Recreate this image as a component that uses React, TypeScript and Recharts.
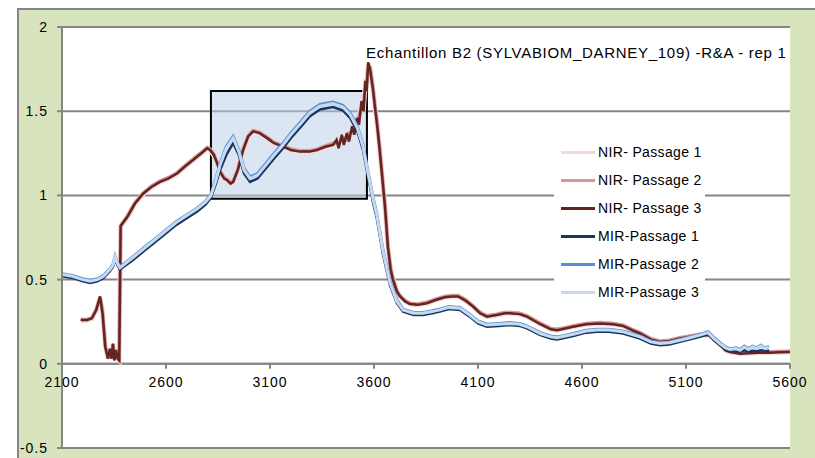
import React from 'react';
import {
  LineChart,
  Line,
  XAxis,
  YAxis,
  CartesianGrid,
  ReferenceArea,
  ReferenceLine,
  ReferenceDot,
} from 'recharts';

const FONT = '"Liberation Sans", Arial, sans-serif';

const title = 'Echantillon B2 (SYLVABIOM_DARNEY_109) -R&A - rep 1';
const xTicks = [2100, 2600, 3100, 3600, 4100, 4600, 5100, 5600];
const yTicks = [-0.5, 0, 0.5, 1, 1.5, 2];

// highlighted region (data coordinates)
const boxX = [2816, 3566];
const boxY = [0.98, 1.62];

// wavenumbers of the MIR passages
const mirX = [
  2100, 2150, 2200, 2235, 2270, 2300, 2330, 2345, 2355, 2365,
  2379, 2440, 2500, 2560, 2600, 2650, 2700, 2750, 2790, 2816,
  2840, 2860, 2890, 2923, 2950, 2975, 3004, 3040, 3080, 3120,
  3163, 3200, 3250, 3292, 3340, 3403, 3450, 3485, 3520, 3547,
  3570, 3595, 3614, 3643, 3677, 3710, 3740, 3790, 3835, 3880,
  3917, 3960, 4013, 4060, 4100, 4143, 4200, 4254, 4300, 4335,
  4400, 4450, 4480, 4520, 4557, 4620, 4671, 4730, 4797, 4879,
  4930, 4975, 5020, 5071, 5120, 5167, 5206, 5235, 5263, 5290,
  5312, 5340, 5360, 5380, 5400, 5420, 5440, 5460, 5480, 5500,
];

const mir1 = [
  0.52, 0.51, 0.49, 0.48, 0.49, 0.51, 0.55, 0.575, 0.62, 0.59,
  0.56, 0.615, 0.675, 0.735, 0.775, 0.825, 0.865, 0.905, 0.945, 0.985,
  1.07, 1.15, 1.24, 1.31, 1.24, 1.13, 1.08, 1.1, 1.16, 1.22,
  1.28, 1.34, 1.41, 1.47, 1.51, 1.525, 1.505, 1.46, 1.38, 1.27,
  1.12, 0.96, 0.86, 0.65, 0.465, 0.36, 0.31, 0.29, 0.29, 0.3,
  0.31, 0.325, 0.32, 0.28, 0.24, 0.22, 0.225, 0.23, 0.225, 0.21,
  0.17, 0.15, 0.145, 0.155, 0.165, 0.185, 0.19, 0.19, 0.18, 0.15,
  0.12, 0.11, 0.115, 0.13, 0.145, 0.16, 0.175, 0.14, 0.11, 0.085,
  0.075, 0.078, 0.072, 0.08, 0.075, 0.078, 0.076, 0.08, 0.077, 0.078,
];

const mir2 = [
  0.535, 0.525, 0.505, 0.495, 0.505, 0.525, 0.565, 0.59, 0.64, 0.605,
  0.575, 0.635, 0.695, 0.755, 0.795, 0.845, 0.885, 0.925, 0.965, 1.005,
  1.1, 1.19, 1.29, 1.35, 1.27, 1.16, 1.11, 1.13, 1.19, 1.25,
  1.31, 1.37, 1.44, 1.5, 1.54, 1.555, 1.535, 1.49, 1.41, 1.3,
  1.15, 0.99, 0.89, 0.68, 0.49, 0.38, 0.325, 0.305, 0.305, 0.315,
  0.325, 0.34, 0.335, 0.295, 0.255, 0.235, 0.24, 0.245, 0.24, 0.225,
  0.185, 0.165, 0.16, 0.17, 0.18, 0.2, 0.205, 0.205, 0.195, 0.165,
  0.135, 0.125, 0.13, 0.145, 0.16, 0.175, 0.19, 0.155, 0.125, 0.1,
  0.09, 0.095, 0.085, 0.105, 0.09, 0.105, 0.095, 0.11, 0.095, 0.105,
];

const mir3 = [
  0.53, 0.52, 0.5, 0.49, 0.5, 0.52, 0.56, 0.585, 0.635, 0.6,
  0.57, 0.63, 0.69, 0.75, 0.79, 0.84, 0.88, 0.92, 0.96, 1.0,
  1.09, 1.18, 1.28, 1.34, 1.26, 1.15, 1.1, 1.12, 1.18, 1.24,
  1.3, 1.36, 1.43, 1.49, 1.53, 1.545, 1.525, 1.48, 1.4, 1.29,
  1.14, 0.98, 0.88, 0.67, 0.48, 0.37, 0.32, 0.3, 0.3, 0.31,
  0.32, 0.335, 0.33, 0.29, 0.25, 0.23, 0.235, 0.24, 0.235, 0.22,
  0.18, 0.16, 0.155, 0.165, 0.175, 0.195, 0.2, 0.2, 0.19, 0.16,
  0.13, 0.12, 0.125, 0.14, 0.155, 0.17, 0.185, 0.15, 0.12, 0.095,
  0.085, 0.09, 0.08, 0.1, 0.085, 0.1, 0.09, 0.105, 0.09, 0.1,
];

// wavenumbers of the NIR passages
const nirX = [
  2190, 2220, 2244, 2265, 2283, 2295, 2308, 2321, 2330, 2338,
  2345, 2352, 2360, 2368, 2375, 2382, 2413, 2450, 2490, 2530,
  2571, 2610, 2653, 2690, 2730, 2770, 2798, 2812, 2830, 2846,
  2860, 2880, 2894, 2910, 2923, 2945, 2971, 2995, 3019, 3050,
  3086, 3120, 3163, 3200, 3244, 3290, 3326, 3370, 3403, 3420,
  3430, 3445, 3455, 3470, 3480, 3495, 3505, 3518, 3528, 3540,
  3550, 3558, 3565, 3572, 3582, 3595, 3605, 3614, 3625, 3638,
  3653, 3667, 3680, 3691, 3710, 3725, 3750, 3773, 3810, 3854,
  3900, 3940, 3975, 4004, 4040, 4076, 4110, 4143, 4190, 4230,
  4254, 4300, 4335, 4400, 4450, 4480, 4520, 4557, 4620, 4687,
  4750, 4797, 4840, 4879, 4930, 4975, 5020, 5071, 5120, 5167,
  5215, 5260, 5290, 5312, 5360, 5400, 5450, 5500, 5550, 5600,
];

const nir1 = [
  0.255, 0.258, 0.268, 0.315, 0.39, 0.305, 0.105, 0.032, 0.088, 0.032,
  0.118, 0.022, 0.082, 0.032, 0.022, 0.82, 0.868, 0.948, 1.008, 1.048,
  1.078, 1.098, 1.128, 1.168, 1.208, 1.248, 1.278, 1.268, 1.238, 1.188,
  1.138, 1.098, 1.088, 1.068, 1.078, 1.148, 1.268, 1.348, 1.378, 1.368,
  1.338, 1.308, 1.288, 1.268, 1.258, 1.258, 1.268, 1.288, 1.3, 1.32,
  1.3, 1.34, 1.32, 1.35, 1.35, 1.39, 1.39, 1.44, 1.45, 1.54,
  1.53, 1.66, 1.65, 1.78, 1.75, 1.63, 1.52, 1.43, 1.3, 1.13,
  0.93, 0.69, 0.56, 0.5, 0.43, 0.4, 0.37, 0.355, 0.35, 0.36,
  0.38, 0.395, 0.4, 0.4, 0.375, 0.34, 0.3, 0.28, 0.29, 0.3,
  0.3, 0.295, 0.28, 0.235, 0.205, 0.2, 0.21, 0.22, 0.235, 0.24,
  0.235, 0.225, 0.2, 0.18, 0.145, 0.13, 0.135, 0.15, 0.16, 0.17,
  0.17, 0.12, 0.08, 0.07, 0.06, 0.062, 0.065, 0.066, 0.068, 0.07,
];

const nir2 = [
  0.265, 0.262, 0.275, 0.325, 0.395, 0.31, 0.11, 0.035, 0.085, 0.035,
  0.115, 0.025, 0.085, 0.035, 0.025, 0.815, 0.875, 0.955, 1.015, 1.055,
  1.085, 1.105, 1.135, 1.175, 1.215, 1.255, 1.285, 1.275, 1.245, 1.195,
  1.145, 1.105, 1.095, 1.075, 1.085, 1.155, 1.275, 1.355, 1.385, 1.375,
  1.345, 1.315, 1.295, 1.275, 1.265, 1.265, 1.275, 1.295, 1.31, 1.31,
  1.31, 1.33, 1.34, 1.33, 1.37, 1.38, 1.4, 1.43, 1.47, 1.52,
  1.55, 1.63, 1.67, 1.76, 1.76, 1.64, 1.53, 1.44, 1.31, 1.14,
  0.94, 0.7, 0.57, 0.505, 0.435, 0.405, 0.375, 0.36, 0.355, 0.365,
  0.385, 0.4, 0.405, 0.405, 0.38, 0.345, 0.305, 0.285, 0.295, 0.305,
  0.305, 0.3, 0.285, 0.24, 0.21, 0.205, 0.215, 0.225, 0.24, 0.245,
  0.24, 0.23, 0.205, 0.185, 0.15, 0.135, 0.14, 0.155, 0.165, 0.175,
  0.175, 0.125, 0.085, 0.075, 0.065, 0.067, 0.07, 0.071, 0.073, 0.075,
];

const nir3 = [
  0.26, 0.26, 0.27, 0.32, 0.4, 0.3, 0.1, 0.03, 0.09, 0.03,
  0.12, 0.02, 0.08, 0.03, 0.02, 0.82, 0.87, 0.95, 1.01, 1.05,
  1.08, 1.1, 1.13, 1.17, 1.21, 1.25, 1.28, 1.27, 1.24, 1.19,
  1.14, 1.1, 1.09, 1.07, 1.08, 1.15, 1.27, 1.35, 1.38, 1.37,
  1.34, 1.31, 1.29, 1.27, 1.26, 1.26, 1.27, 1.29, 1.3, 1.33,
  1.28, 1.36, 1.3, 1.37, 1.32, 1.41, 1.36, 1.46, 1.42, 1.56,
  1.5, 1.68, 1.62, 1.79, 1.74, 1.63, 1.52, 1.43, 1.3, 1.13,
  0.93, 0.69, 0.56, 0.5, 0.43, 0.4, 0.37, 0.355, 0.35, 0.36,
  0.38, 0.395, 0.4, 0.4, 0.375, 0.34, 0.3, 0.28, 0.29, 0.3,
  0.3, 0.295, 0.28, 0.235, 0.205, 0.2, 0.21, 0.22, 0.235, 0.24,
  0.235, 0.225, 0.2, 0.18, 0.145, 0.13, 0.135, 0.15, 0.16, 0.17,
  0.17, 0.12, 0.08, 0.07, 0.06, 0.062, 0.065, 0.066, 0.068, 0.07,
];

// draw order matters: later series sit on top (Excel style)
const series = [
  { name: 'NIR- Passage 1', color: '#f2dcdb', width: 5, xs: nirX, ys: nir1 },
  { name: 'NIR- Passage 2', color: '#da9694', width: 3.5, xs: nirX, ys: nir2 },
  { name: 'NIR- Passage 3', color: '#632523', width: 2.5, xs: nirX, ys: nir3 },
  { name: 'MIR-Passage 1', color: '#17375e', width: 2.5, xs: mirX, ys: mir1 },
  { name: 'MIR-Passage 2', color: '#558ed5', width: 3, xs: mirX, ys: mir2 },
  { name: 'MIR-Passage 3', color: '#c6d9f1', width: 3, xs: mirX, ys: mir3 },
];

const toPoints = (xs: number[], ys: number[]) => xs.map((x, i) => ({ x, y: ys[i] }));

const GRID = '#868686';

// x labels sit under the y=0 line, like Excel's "axis crosses at 0"
const XTickMark = (props: any) => {
  const { cx, cy, label } = props;
  return (
    <g>
      <line x1={cx} y1={cy} x2={cx} y2={cy + 5} stroke={GRID} strokeWidth={2} />
      <text
        x={cx}
        y={cy + 23}
        textAnchor="middle"
        fontSize={14}
        fontFamily={FONT}
        fill="#000"
        style={{ letterSpacing: 1 }}
      >
        {label}
      </text>
    </g>
  );
};

export default function App() {
  return (
    <div
      style={{
        position: 'fixed',
        left: 17,
        top: 8,
        width: 820,
        height: 470,
        background: '#d7e4bd',
        border: `2px solid ${GRID}`,
        overflow: 'hidden',
        fontFamily: FONT,
      }}
    >
      <LineChart width={790} height={460} margin={{ top: 17, right: 19, left: 3, bottom: 22 }}>
        <CartesianGrid vertical={false} stroke={GRID} strokeWidth={2} fill="#ffffff" fillOpacity={1} />
        <XAxis type="number" dataKey="x" domain={[2100, 5600]} ticks={xTicks} hide allowDataOverflow />
        <YAxis
          type="number"
          domain={[-0.5, 2]}
          ticks={yTicks}
          width={40}
          allowDataOverflow
          axisLine={{ stroke: GRID, strokeWidth: 2 }}
          tickLine={{ stroke: GRID, strokeWidth: 2 }}
          tickSize={5}
          tickMargin={9}
          tick={{ fontSize: 14, fill: '#000', fontFamily: FONT, style: { letterSpacing: 1 } }}
        />
        <ReferenceArea
          x1={boxX[0]}
          x2={boxX[1]}
          y1={boxY[0]}
          y2={boxY[1]}
          fill="#b9cde5"
          fillOpacity={0.5}
          stroke="#000"
          strokeWidth={2}
        />
        <ReferenceLine y={0} stroke={GRID} strokeWidth={2} />
        {xTicks.map((t) => (
          <ReferenceDot
            key={t}
            x={t}
            y={0}
            r={0}
            shape={(p: any) => <XTickMark {...p} label={String(t)} />}
          />
        ))}
        {series.map((s) => (
          <Line
            key={s.name}
            data={toPoints(s.xs, s.ys)}
            dataKey="y"
            name={s.name}
            type="linear"
            stroke={s.color}
            strokeWidth={s.width}
            dot={false}
            activeDot={false}
            isAnimationActive={false}
          />
        ))}
      </LineChart>

      <div
        style={{
          position: 'absolute',
          left: 347,
          top: 35,
          fontSize: 15,
          letterSpacing: 0.7,
          lineHeight: 1,
          color: '#000',
          whiteSpace: 'nowrap',
        }}
      >
        {title}
      </div>

      <div
        style={{
          position: 'absolute',
          left: 535,
          top: 128,
          width: 151,
          background: '#fff',
        }}
      >
        {series.map((s) => (
          <div key={s.name} style={{ height: 28, display: 'flex', alignItems: 'center' }}>
            <div style={{ width: 34, height: 3, marginLeft: 7, background: s.color }} />
            <span
              style={{
                fontSize: 14,
                letterSpacing: 0.35,
                color: '#000',
                marginLeft: 3,
                whiteSpace: 'nowrap',
              }}
            >
              {s.name}
            </span>
          </div>
        ))}
      </div>
    </div>
  );
}
